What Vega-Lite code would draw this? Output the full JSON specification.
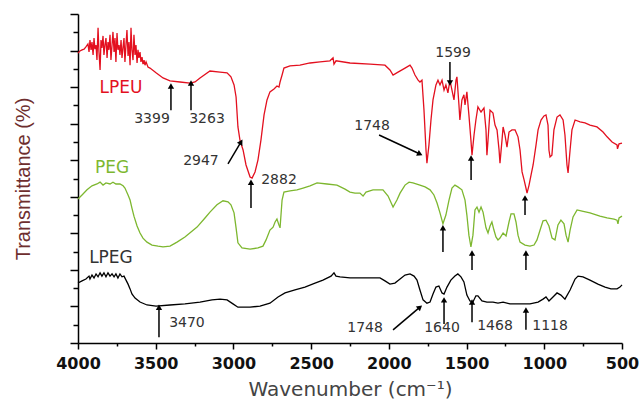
{
  "$schema": "https://vega.github.io/schema/vega-lite/v6.json",
  "width": 544,
  "height": 329,
  "autosize": {"type": "none"},
  "padding": {"left": 78, "top": 14, "right": 17, "bottom": 56},
  "background": "#ffffff",
  "config": {"view": {"stroke": null}},
  "datasets": {
    "spectra": [
      {"series":"LPEU","wn":4000,"t":79.3},{"series":"LPEU","wn":3987,"t":79.9},{"series":"LPEU","wn":3974,"t":80.2},{"series":"LPEU","wn":3961,"t":80.4},{"series":"LPEU","wn":3949,"t":81.0},{"series":"LPEU","wn":3936,"t":81.8},{"series":"LPEU","wn":3929,"t":79.6},{"series":"LPEU","wn":3923,"t":82.9},{"series":"LPEU","wn":3916,"t":80.2},{"series":"LPEU","wn":3910,"t":82.3},{"series":"LPEU","wn":3903,"t":78.8},{"series":"LPEU","wn":3897,"t":83.4},{"series":"LPEU","wn":3891,"t":80.4},{"series":"LPEU","wn":3884,"t":81.5},{"series":"LPEU","wn":3878,"t":77.4},{"series":"LPEU","wn":3871,"t":86.2},{"series":"LPEU","wn":3865,"t":79.6},{"series":"LPEU","wn":3858,"t":74.7},{"series":"LPEU","wn":3852,"t":82.9},{"series":"LPEU","wn":3846,"t":80.7},{"series":"LPEU","wn":3839,"t":84.0},{"series":"LPEU","wn":3833,"t":78.8},{"series":"LPEU","wn":3826,"t":81.8},{"series":"LPEU","wn":3820,"t":83.4},{"series":"LPEU","wn":3813,"t":78.0},{"series":"LPEU","wn":3807,"t":82.3},{"series":"LPEU","wn":3801,"t":80.2},{"series":"LPEU","wn":3794,"t":84.3},{"series":"LPEU","wn":3788,"t":77.4},{"series":"LPEU","wn":3781,"t":81.5},{"series":"LPEU","wn":3775,"t":85.1},{"series":"LPEU","wn":3768,"t":79.6},{"series":"LPEU","wn":3762,"t":83.4},{"series":"LPEU","wn":3756,"t":76.9},{"series":"LPEU","wn":3749,"t":84.8},{"series":"LPEU","wn":3743,"t":80.2},{"series":"LPEU","wn":3736,"t":81.5},{"series":"LPEU","wn":3730,"t":78.8},{"series":"LPEU","wn":3723,"t":82.9},{"series":"LPEU","wn":3717,"t":78.0},{"series":"LPEU","wn":3710,"t":81.0},{"series":"LPEU","wn":3704,"t":83.4},{"series":"LPEU","wn":3698,"t":76.9},{"series":"LPEU","wn":3691,"t":81.8},{"series":"LPEU","wn":3685,"t":85.6},{"series":"LPEU","wn":3678,"t":78.5},{"series":"LPEU","wn":3672,"t":82.3},{"series":"LPEU","wn":3665,"t":76.0},{"series":"LPEU","wn":3659,"t":86.2},{"series":"LPEU","wn":3653,"t":80.2},{"series":"LPEU","wn":3646,"t":77.4},{"series":"LPEU","wn":3640,"t":84.3},{"series":"LPEU","wn":3633,"t":78.8},{"series":"LPEU","wn":3627,"t":81.5},{"series":"LPEU","wn":3620,"t":76.6},{"series":"LPEU","wn":3614,"t":80.2},{"series":"LPEU","wn":3608,"t":78.0},{"series":"LPEU","wn":3601,"t":79.6},{"series":"LPEU","wn":3595,"t":76.9},{"series":"LPEU","wn":3588,"t":78.2},{"series":"LPEU","wn":3582,"t":76.3},{"series":"LPEU","wn":3575,"t":77.4},{"series":"LPEU","wn":3569,"t":76.0},{"series":"LPEU","wn":3562,"t":76.9},{"series":"LPEU","wn":3550,"t":75.5},
      {"series":"LPEU","wn":3537,"t":75.2},{"series":"LPEU","wn":3498,"t":73.9},{"series":"LPEU","wn":3453,"t":72.5},{"series":"LPEU","wn":3408,"t":71.7},{"series":"LPEU","wn":3344,"t":71.4},{"series":"LPEU","wn":3279,"t":71.1},{"series":"LPEU","wn":3247,"t":71.4},{"series":"LPEU","wn":3215,"t":72.5},{"series":"LPEU","wn":3151,"t":74.4},{"series":"LPEU","wn":3086,"t":74.1},{"series":"LPEU","wn":3041,"t":73.9},{"series":"LPEU","wn":3016,"t":72.8},{"series":"LPEU","wn":2996,"t":70.6},{"series":"LPEU","wn":2983,"t":67.3},{"series":"LPEU","wn":2971,"t":59.1},{"series":"LPEU","wn":2958,"t":55.5},{"series":"LPEU","wn":2938,"t":52.8},{"series":"LPEU","wn":2919,"t":48.7},{"series":"LPEU","wn":2893,"t":45.4},{"series":"LPEU","wn":2880,"t":45.1},{"series":"LPEU","wn":2861,"t":46.8},{"series":"LPEU","wn":2842,"t":50.1},{"series":"LPEU","wn":2823,"t":55.5},{"series":"LPEU","wn":2803,"t":62.4},{"series":"LPEU","wn":2784,"t":66.5},{"series":"LPEU","wn":2765,"t":68.7},{"series":"LPEU","wn":2739,"t":69.5},{"series":"LPEU","wn":2720,"t":70.3},{"series":"LPEU","wn":2707,"t":70.0},{"series":"LPEU","wn":2700,"t":71.4},{"series":"LPEU","wn":2687,"t":73.3},{"series":"LPEU","wn":2675,"t":75.2},{"series":"LPEU","wn":2636,"t":75.8},{"series":"LPEU","wn":2572,"t":76.0},{"series":"LPEU","wn":2507,"t":76.6},{"series":"LPEU","wn":2443,"t":76.9},{"series":"LPEU","wn":2379,"t":77.2},{"series":"LPEU","wn":2359,"t":78.0},{"series":"LPEU","wn":2353,"t":76.3},{"series":"LPEU","wn":2340,"t":77.2},{"series":"LPEU","wn":2250,"t":76.6},{"series":"LPEU","wn":2121,"t":76.3},{"series":"LPEU","wn":2025,"t":76.0},{"series":"LPEU","wn":1993,"t":74.7},{"series":"LPEU","wn":1973,"t":73.3},{"series":"LPEU","wn":1941,"t":74.1},{"series":"LPEU","wn":1896,"t":75.2},{"series":"LPEU","wn":1864,"t":76.0},{"series":"LPEU","wn":1851,"t":75.2},{"series":"LPEU","wn":1832,"t":73.3},{"series":"LPEU","wn":1812,"t":71.9},{"series":"LPEU","wn":1800,"t":71.4},{"series":"LPEU","wn":1787,"t":71.9},{"series":"LPEU","wn":1774,"t":63.7},{"series":"LPEU","wn":1761,"t":52.8},{"series":"LPEU","wn":1755,"t":49.2},{"series":"LPEU","wn":1742,"t":54.2},{"series":"LPEU","wn":1729,"t":61.0},{"series":"LPEU","wn":1716,"t":66.5},{"series":"LPEU","wn":1697,"t":70.6},{"series":"LPEU","wn":1684,"t":71.9},{"series":"LPEU","wn":1671,"t":70.6},{"series":"LPEU","wn":1658,"t":71.9},{"series":"LPEU","wn":1645,"t":69.2},{"series":"LPEU","wn":1633,"t":70.6},{"series":"LPEU","wn":1620,"t":68.4},{"series":"LPEU","wn":1607,"t":71.9},{"series":"LPEU","wn":1594,"t":69.2},{"series":"LPEU","wn":1581,"t":66.5},{"series":"LPEU","wn":1568,"t":71.9},{"series":"LPEU","wn":1562,"t":72.8},{"series":"LPEU","wn":1549,"t":65.1},{"series":"LPEU","wn":1543,"t":61.0},{"series":"LPEU","wn":1530,"t":66.5},{"series":"LPEU","wn":1517,"t":67.9},{"series":"LPEU","wn":1510,"t":65.1},{"series":"LPEU","wn":1498,"t":68.7},{"series":"LPEU","wn":1485,"t":62.4},{"series":"LPEU","wn":1472,"t":55.5},{"series":"LPEU","wn":1465,"t":51.4},{"series":"LPEU","wn":1452,"t":56.9},{"series":"LPEU","wn":1440,"t":61.0},{"series":"LPEU","wn":1427,"t":64.6},{"series":"LPEU","wn":1407,"t":63.2},{"series":"LPEU","wn":1388,"t":64.3},{"series":"LPEU","wn":1375,"t":58.3},{"series":"LPEU","wn":1369,"t":51.4},{"series":"LPEU","wn":1362,"t":55.5},{"series":"LPEU","wn":1349,"t":63.7},{"series":"LPEU","wn":1330,"t":62.9},{"series":"LPEU","wn":1317,"t":59.6},{"series":"LPEU","wn":1304,"t":58.3},{"series":"LPEU","wn":1291,"t":52.8},{"series":"LPEU","wn":1285,"t":49.2},{"series":"LPEU","wn":1272,"t":55.5},{"series":"LPEU","wn":1265,"t":59.1},{"series":"LPEU","wn":1253,"t":56.9},{"series":"LPEU","wn":1240,"t":53.6},{"series":"LPEU","wn":1227,"t":57.7},{"series":"LPEU","wn":1208,"t":58.3},{"series":"LPEU","wn":1188,"t":58.3},{"series":"LPEU","wn":1169,"t":56.4},{"series":"LPEU","wn":1156,"t":52.8},{"series":"LPEU","wn":1143,"t":46.8},{"series":"LPEU","wn":1130,"t":44.6},{"series":"LPEU","wn":1118,"t":42.4},{"series":"LPEU","wn":1111,"t":41.0},{"series":"LPEU","wn":1098,"t":43.2},{"series":"LPEU","wn":1085,"t":46.0},{"series":"LPEU","wn":1072,"t":48.7},{"series":"LPEU","wn":1053,"t":54.2},{"series":"LPEU","wn":1040,"t":58.3},{"series":"LPEU","wn":1021,"t":61.0},{"series":"LPEU","wn":1002,"t":62.1},{"series":"LPEU","wn":989,"t":62.4},{"series":"LPEU","wn":976,"t":59.6},{"series":"LPEU","wn":970,"t":52.8},{"series":"LPEU","wn":963,"t":50.9},{"series":"LPEU","wn":951,"t":51.4},{"series":"LPEU","wn":938,"t":58.3},{"series":"LPEU","wn":918,"t":61.8},{"series":"LPEU","wn":899,"t":62.4},{"series":"LPEU","wn":879,"t":61.0},{"series":"LPEU","wn":867,"t":56.9},{"series":"LPEU","wn":854,"t":48.7},{"series":"LPEU","wn":847,"t":46.5},{"series":"LPEU","wn":834,"t":52.8},{"series":"LPEU","wn":822,"t":58.3},{"series":"LPEU","wn":802,"t":61.0},{"series":"LPEU","wn":770,"t":60.5},{"series":"LPEU","wn":738,"t":60.2},{"series":"LPEU","wn":706,"t":59.6},{"series":"LPEU","wn":661,"t":59.1},{"series":"LPEU","wn":622,"t":57.7},{"series":"LPEU","wn":596,"t":56.4},{"series":"LPEU","wn":564,"t":55.0},{"series":"LPEU","wn":532,"t":54.2},{"series":"LPEU","wn":529,"t":53.1},{"series":"LPEU","wn":519,"t":54.5},{"series":"LPEU","wn":500,"t":54.7},
      {"series":"PEG","wn":4000,"t":39.4},{"series":"PEG","wn":3974,"t":40.5},{"series":"PEG","wn":3942,"t":41.9},{"series":"PEG","wn":3910,"t":43.0},{"series":"PEG","wn":3878,"t":43.5},{"series":"PEG","wn":3858,"t":44.0},{"series":"PEG","wn":3839,"t":43.2},{"series":"PEG","wn":3820,"t":43.8},{"series":"PEG","wn":3794,"t":43.5},{"series":"PEG","wn":3775,"t":44.0},{"series":"PEG","wn":3756,"t":43.5},{"series":"PEG","wn":3730,"t":43.5},{"series":"PEG","wn":3710,"t":43.0},{"series":"PEG","wn":3698,"t":42.4},{"series":"PEG","wn":3678,"t":40.5},{"series":"PEG","wn":3665,"t":39.1},{"series":"PEG","wn":3653,"t":36.9},{"series":"PEG","wn":3640,"t":34.7},{"series":"PEG","wn":3620,"t":32.0},{"series":"PEG","wn":3601,"t":30.1},{"series":"PEG","wn":3582,"t":28.7},{"series":"PEG","wn":3556,"t":27.6},{"series":"PEG","wn":3524,"t":26.8},{"series":"PEG","wn":3485,"t":26.5},{"series":"PEG","wn":3453,"t":26.3},{"series":"PEG","wn":3408,"t":26.5},{"series":"PEG","wn":3363,"t":27.6},{"series":"PEG","wn":3312,"t":29.0},{"series":"PEG","wn":3234,"t":31.7},{"series":"PEG","wn":3183,"t":34.2},{"series":"PEG","wn":3151,"t":35.8},{"series":"PEG","wn":3106,"t":37.8},{"series":"PEG","wn":3067,"t":38.9},{"series":"PEG","wn":3035,"t":38.6},{"series":"PEG","wn":3016,"t":37.8},{"series":"PEG","wn":2996,"t":35.6},{"series":"PEG","wn":2983,"t":31.5},{"series":"PEG","wn":2971,"t":27.4},{"series":"PEG","wn":2945,"t":26.0},{"series":"PEG","wn":2893,"t":25.7},{"series":"PEG","wn":2842,"t":26.0},{"series":"PEG","wn":2810,"t":26.5},{"series":"PEG","wn":2790,"t":28.2},{"series":"PEG","wn":2765,"t":30.9},{"series":"PEG","wn":2745,"t":31.7},{"series":"PEG","wn":2732,"t":33.1},{"series":"PEG","wn":2720,"t":33.9},{"series":"PEG","wn":2707,"t":32.3},{"series":"PEG","wn":2700,"t":31.5},{"series":"PEG","wn":2687,"t":39.1},{"series":"PEG","wn":2675,"t":41.3},{"series":"PEG","wn":2636,"t":41.6},{"series":"PEG","wn":2591,"t":41.9},{"series":"PEG","wn":2552,"t":42.4},{"series":"PEG","wn":2507,"t":43.0},{"series":"PEG","wn":2462,"t":43.8},{"series":"PEG","wn":2398,"t":43.5},{"series":"PEG","wn":2334,"t":43.2},{"series":"PEG","wn":2282,"t":42.1},{"series":"PEG","wn":2250,"t":41.3},{"series":"PEG","wn":2218,"t":41.0},{"series":"PEG","wn":2186,"t":41.0},{"series":"PEG","wn":2166,"t":40.2},{"series":"PEG","wn":2147,"t":41.3},{"series":"PEG","wn":2102,"t":41.9},{"series":"PEG","wn":2038,"t":41.9},{"series":"PEG","wn":2005,"t":40.2},{"series":"PEG","wn":1973,"t":37.2},{"series":"PEG","wn":1948,"t":39.1},{"series":"PEG","wn":1928,"t":41.0},{"series":"PEG","wn":1896,"t":43.2},{"series":"PEG","wn":1870,"t":44.0},{"series":"PEG","wn":1845,"t":43.8},{"series":"PEG","wn":1800,"t":43.2},{"series":"PEG","wn":1767,"t":42.7},{"series":"PEG","wn":1735,"t":41.9},{"series":"PEG","wn":1710,"t":40.5},{"series":"PEG","wn":1690,"t":38.3},{"series":"PEG","wn":1671,"t":35.6},{"series":"PEG","wn":1652,"t":32.6},{"series":"PEG","wn":1633,"t":35.0},{"series":"PEG","wn":1613,"t":39.1},{"series":"PEG","wn":1594,"t":42.4},{"series":"PEG","wn":1575,"t":43.2},{"series":"PEG","wn":1556,"t":42.7},{"series":"PEG","wn":1530,"t":41.9},{"series":"PEG","wn":1510,"t":39.1},{"series":"PEG","wn":1498,"t":35.0},{"series":"PEG","wn":1485,"t":29.5},{"series":"PEG","wn":1472,"t":26.3},{"series":"PEG","wn":1459,"t":29.5},{"series":"PEG","wn":1446,"t":36.4},{"series":"PEG","wn":1433,"t":37.2},{"series":"PEG","wn":1420,"t":35.8},{"series":"PEG","wn":1407,"t":37.2},{"series":"PEG","wn":1394,"t":35.8},{"series":"PEG","wn":1375,"t":31.5},{"series":"PEG","wn":1362,"t":30.1},{"series":"PEG","wn":1349,"t":32.0},{"series":"PEG","wn":1337,"t":33.1},{"series":"PEG","wn":1324,"t":30.9},{"series":"PEG","wn":1311,"t":29.0},{"series":"PEG","wn":1298,"t":28.2},{"series":"PEG","wn":1285,"t":28.7},{"series":"PEG","wn":1265,"t":30.1},{"series":"PEG","wn":1246,"t":29.3},{"series":"PEG","wn":1227,"t":33.1},{"series":"PEG","wn":1214,"t":35.3},{"series":"PEG","wn":1195,"t":35.3},{"series":"PEG","wn":1182,"t":33.1},{"series":"PEG","wn":1169,"t":29.5},{"series":"PEG","wn":1156,"t":27.6},{"series":"PEG","wn":1124,"t":26.8},{"series":"PEG","wn":1092,"t":26.5},{"series":"PEG","wn":1066,"t":26.8},{"series":"PEG","wn":1047,"t":28.2},{"series":"PEG","wn":1027,"t":30.9},{"series":"PEG","wn":1008,"t":33.4},{"series":"PEG","wn":989,"t":33.6},{"series":"PEG","wn":970,"t":32.0},{"series":"PEG","wn":950,"t":28.7},{"series":"PEG","wn":931,"t":28.2},{"series":"PEG","wn":912,"t":32.3},{"series":"PEG","wn":893,"t":33.6},{"series":"PEG","wn":873,"t":32.6},{"series":"PEG","wn":860,"t":29.5},{"series":"PEG","wn":847,"t":27.6},{"series":"PEG","wn":834,"t":30.9},{"series":"PEG","wn":815,"t":34.5},{"series":"PEG","wn":789,"t":36.4},{"series":"PEG","wn":757,"t":36.1},{"series":"PEG","wn":706,"t":35.6},{"series":"PEG","wn":642,"t":34.7},{"series":"PEG","wn":596,"t":34.2},{"series":"PEG","wn":551,"t":33.9},{"series":"PEG","wn":532,"t":33.6},{"series":"PEG","wn":526,"t":32.6},{"series":"PEG","wn":519,"t":34.2},{"series":"PEG","wn":500,"t":34.7},
      {"series":"LPEG","wn":4000,"t":16.4},{"series":"LPEG","wn":3974,"t":17.0},{"series":"LPEG","wn":3949,"t":17.5},{"series":"LPEG","wn":3929,"t":18.3},{"series":"LPEG","wn":3923,"t":17.5},{"series":"LPEG","wn":3910,"t":18.6},{"series":"LPEG","wn":3897,"t":17.8},{"series":"LPEG","wn":3884,"t":18.9},{"series":"LPEG","wn":3871,"t":18.1},{"series":"LPEG","wn":3858,"t":19.2},{"series":"LPEG","wn":3846,"t":18.3},{"series":"LPEG","wn":3833,"t":19.2},{"series":"LPEG","wn":3820,"t":18.1},{"series":"LPEG","wn":3807,"t":19.2},{"series":"LPEG","wn":3794,"t":18.3},{"series":"LPEG","wn":3781,"t":18.9},{"series":"LPEG","wn":3768,"t":18.1},{"series":"LPEG","wn":3756,"t":18.9},{"series":"LPEG","wn":3743,"t":17.8},{"series":"LPEG","wn":3730,"t":18.9},{"series":"LPEG","wn":3717,"t":18.1},{"series":"LPEG","wn":3704,"t":18.3},{"series":"LPEG","wn":3691,"t":17.2},{"series":"LPEG","wn":3678,"t":16.1},{"series":"LPEG","wn":3665,"t":14.8},{"series":"LPEG","wn":3653,"t":13.4},{"series":"LPEG","wn":3633,"t":12.3},{"series":"LPEG","wn":3601,"t":11.2},{"series":"LPEG","wn":3556,"t":10.4},{"series":"LPEG","wn":3498,"t":10.1},{"series":"LPEG","wn":3408,"t":10.4},{"series":"LPEG","wn":3312,"t":10.7},{"series":"LPEG","wn":3215,"t":11.2},{"series":"LPEG","wn":3138,"t":11.8},{"series":"LPEG","wn":3086,"t":12.0},{"series":"LPEG","wn":3041,"t":11.8},{"series":"LPEG","wn":3003,"t":10.7},{"series":"LPEG","wn":2971,"t":9.8},{"series":"LPEG","wn":2893,"t":9.8},{"series":"LPEG","wn":2829,"t":10.1},{"series":"LPEG","wn":2765,"t":10.9},{"series":"LPEG","wn":2713,"t":12.6},{"series":"LPEG","wn":2668,"t":13.7},{"series":"LPEG","wn":2604,"t":14.5},{"series":"LPEG","wn":2540,"t":15.3},{"series":"LPEG","wn":2475,"t":16.4},{"series":"LPEG","wn":2424,"t":17.2},{"series":"LPEG","wn":2372,"t":18.3},{"series":"LPEG","wn":2353,"t":19.2},{"series":"LPEG","wn":2340,"t":18.3},{"series":"LPEG","wn":2314,"t":18.1},{"series":"LPEG","wn":2250,"t":17.8},{"series":"LPEG","wn":2153,"t":17.8},{"series":"LPEG","wn":2057,"t":17.8},{"series":"LPEG","wn":2025,"t":17.0},{"series":"LPEG","wn":1993,"t":16.1},{"series":"LPEG","wn":1961,"t":16.4},{"series":"LPEG","wn":1928,"t":17.5},{"series":"LPEG","wn":1896,"t":18.6},{"series":"LPEG","wn":1864,"t":18.9},{"series":"LPEG","wn":1838,"t":18.3},{"series":"LPEG","wn":1819,"t":17.2},{"series":"LPEG","wn":1800,"t":14.5},{"series":"LPEG","wn":1780,"t":11.8},{"series":"LPEG","wn":1755,"t":10.9},{"series":"LPEG","wn":1735,"t":11.2},{"series":"LPEG","wn":1716,"t":13.4},{"series":"LPEG","wn":1697,"t":15.3},{"series":"LPEG","wn":1678,"t":15.6},{"series":"LPEG","wn":1658,"t":13.7},{"series":"LPEG","wn":1645,"t":13.4},{"series":"LPEG","wn":1626,"t":15.3},{"series":"LPEG","wn":1601,"t":17.2},{"series":"LPEG","wn":1575,"t":18.3},{"series":"LPEG","wn":1556,"t":18.9},{"series":"LPEG","wn":1536,"t":18.1},{"series":"LPEG","wn":1517,"t":16.7},{"series":"LPEG","wn":1498,"t":13.1},{"series":"LPEG","wn":1478,"t":11.5},{"series":"LPEG","wn":1459,"t":11.2},{"series":"LPEG","wn":1440,"t":12.9},{"series":"LPEG","wn":1427,"t":12.9},{"series":"LPEG","wn":1401,"t":11.5},{"series":"LPEG","wn":1369,"t":11.2},{"series":"LPEG","wn":1330,"t":11.2},{"series":"LPEG","wn":1298,"t":10.9},{"series":"LPEG","wn":1265,"t":11.2},{"series":"LPEG","wn":1221,"t":10.7},{"series":"LPEG","wn":1156,"t":10.7},{"series":"LPEG","wn":1092,"t":10.7},{"series":"LPEG","wn":1040,"t":11.2},{"series":"LPEG","wn":1008,"t":12.0},{"series":"LPEG","wn":989,"t":12.6},{"series":"LPEG","wn":970,"t":11.5},{"series":"LPEG","wn":944,"t":12.6},{"series":"LPEG","wn":918,"t":13.7},{"series":"LPEG","wn":893,"t":13.1},{"series":"LPEG","wn":867,"t":12.0},{"series":"LPEG","wn":834,"t":14.5},{"series":"LPEG","wn":802,"t":17.5},{"series":"LPEG","wn":783,"t":18.3},{"series":"LPEG","wn":751,"t":18.1},{"series":"LPEG","wn":706,"t":17.2},{"series":"LPEG","wn":655,"t":16.1},{"series":"LPEG","wn":609,"t":15.3},{"series":"LPEG","wn":571,"t":14.8},{"series":"LPEG","wn":532,"t":14.8},{"series":"LPEG","wn":513,"t":15.3},{"series":"LPEG","wn":500,"t":15.9}
    ],
    "arrows": [
      {"wn":3402,"t":63.7,"wn2":3402,"t2":70.3},
      {"wn":3273,"t":63.7,"wn2":3273,"t2":71.1},
      {"wn":3035,"t":49.0,"wn2":2951,"t2":55.0},
      {"wn":2887,"t":36.9,"wn2":2887,"t2":44.0},
      {"wn":1607,"t":76.9,"wn2":1607,"t2":71.1},
      {"wn":2063,"t":56.9,"wn2":1800,"t2":51.7},
      {"wn":1471,"t":44.6,"wn2":1471,"t2":50.6},
      {"wn":1124,"t":35.0,"wn2":1124,"t2":39.7},
      {"wn":1652,"t":24.9,"wn2":1652,"t2":31.5},
      {"wn":1465,"t":20.0,"wn2":1465,"t2":24.6},
      {"wn":1118,"t":20.0,"wn2":1118,"t2":24.6},
      {"wn":3479,"t":1.6,"wn2":3479,"t2":9.8},
      {"wn":1973,"t":3.6,"wn2":1800,"t2":9.8},
      {"wn":1645,"t":5.2,"wn2":1645,"t2":11.8},
      {"wn":1465,"t":5.7,"wn2":1465,"t2":11.2},
      {"wn":1118,"t":3.6,"wn2":1118,"t2":9.0}
    ],
    "notes": [
      {"label":"3399","wn":3524,"t":61.3},
      {"label":"3263","wn":3170,"t":61.3},
      {"label":"2947","wn":3209,"t":49.8},
      {"label":"2882","wn":2707,"t":44.6},
      {"label":"1599","wn":1587,"t":79.3},
      {"label":"1748","wn":2108,"t":59.4},
      {"label":"3470","wn":3299,"t":5.5},
      {"label":"1748","wn":2153,"t":4.1},
      {"label":"1640","wn":1658,"t":4.1},
      {"label":"1468","wn":1317,"t":4.7},
      {"label":"1118","wn":963,"t":4.7}
    ],
    "names": [
      {"series":"LPEU","wn":3723,"t":69.8},
      {"series":"PEG","wn":3781,"t":47.9},
      {"series":"LPEG","wn":3788,"t":23.3}
    ]
  },
  "layer": [
    {
      "data": {"name": "spectra"},
      "mark": {"type": "line", "strokeWidth": 1.3, "interpolate": "linear"},
      "encoding": {
        "x": {
          "field": "wn", "type": "quantitative",
          "scale": {"domain": [500, 4000], "reverse": true, "nice": false, "zero": false},
          "axis": {
            "title": "Wavenumber (cm⁻¹)",
            "values": [4000, 3750, 3500, 3250, 3000, 2750, 2500, 2250, 2000, 1750, 1500, 1250, 1000, 750, 500],
            "tickCount": 100,
            "format": "d",
            "labelExpr": "datum.value % 500 === 0 ? datum.label : ''",
            "grid": false,
            "domainColor": "#000000", "domainWidth": 1.5,
            "tickColor": "#000000", "tickWidth": 1.5,
            "tickSize": {"condition": {"test": "datum.value % 500 === 0", "value": 6}, "value": 3},
            "labelFont": "DejaVu Sans", "labelFontSize": 16, "labelFontWeight": "bold", "labelColor": "#111111",
            "labelPadding": 6, "labelFlush": false, "labelOverlap": false,
            "titleFont": "DejaVu Sans", "titleFontSize": 20, "titleFontWeight": "normal", "titleColor": "#444444",
            "titlePadding": 8
          }
        },
        "y": {
          "field": "t", "type": "quantitative",
          "scale": {"domain": [0, 90], "nice": false, "zero": false},
          "axis": {
            "title": "Transmittance (%)",
            "values": [0, 5, 10, 15, 20, 25, 30, 35, 40, 45, 50, 55, 60, 65, 70, 75, 80, 85, 90],
            "tickCount": 100,
            "labels": false,
            "grid": false,
            "domainColor": "#000000", "domainWidth": 1.5,
            "tickColor": "#000000", "tickWidth": 1.5,
            "tickSize": {"condition": {"test": "datum.value % 10 === 0", "value": 8}, "value": 5},
            "titleFont": "Liberation Sans", "titleFontSize": 20, "titleFontWeight": "normal", "titleColor": "#6e2e2e",
            "titlePadding": 36
          }
        },
        "color": {
          "field": "series", "type": "nominal",
          "scale": {"domain": ["LPEU", "PEG", "LPEG"], "range": ["#e3101f", "#7db72f", "#000000"]},
          "legend": null
        },
        "detail": {"field": "series"}
      }
    },
    {
      "data": {"name": "arrows"},
      "mark": {"type": "rule", "color": "#000000", "strokeWidth": 1.5},
      "encoding": {
        "x": {"field": "wn", "type": "quantitative"},
        "y": {"field": "t", "type": "quantitative"},
        "x2": {"field": "wn2"},
        "y2": {"field": "t2"}
      }
    },
    {
      "data": {"name": "arrows"},
      "transform": [
        {"calculate": "atan2(-(datum.wn2 - datum.wn) * 0.15543, (datum.t2 - datum.t) * 3.6556) * 180 / PI", "as": "ang"}
      ],
      "mark": {"type": "point", "shape": "triangle-up", "filled": true, "color": "#000000", "size": 40, "opacity": 1},
      "encoding": {
        "x": {"field": "wn2", "type": "quantitative"},
        "y": {"field": "t2", "type": "quantitative"},
        "angle": {"field": "ang", "type": "quantitative", "scale": null}
      }
    },
    {
      "data": {"name": "notes"},
      "mark": {"type": "text", "font": "DejaVu Sans", "fontSize": 14, "color": "#333333", "align": "center", "baseline": "middle"},
      "encoding": {
        "x": {"field": "wn", "type": "quantitative"},
        "y": {"field": "t", "type": "quantitative"},
        "text": {"field": "label"}
      }
    },
    {
      "data": {"name": "names"},
      "mark": {"type": "text", "font": "DejaVu Sans", "fontSize": 17, "align": "center", "baseline": "middle"},
      "encoding": {
        "x": {"field": "wn", "type": "quantitative"},
        "y": {"field": "t", "type": "quantitative"},
        "text": {"field": "series"},
        "color": {"field": "series", "type": "nominal", "scale": {"domain": ["LPEU", "PEG", "LPEG"], "range": ["#e3101f", "#7db72f", "#333333"]}, "legend": null}
      }
    }
  ],
  "resolve": {"scale": {"color": "independent"}}
}
